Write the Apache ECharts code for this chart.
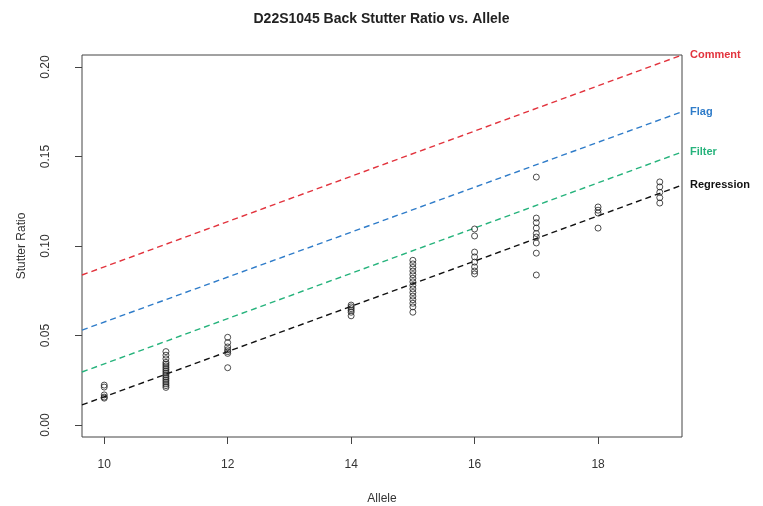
<!DOCTYPE html>
<html>
<head>
<meta charset="utf-8">
<script src="https://cdn.jsdelivr.net/npm/echarts@6/dist/echarts.min.js"></script>
<style>
  html, body { margin: 0; padding: 0; background: #fff; }
  #chart { width: 763px; height: 506px; }
</style>
</head>
<body>
<div id="chart"></div>
<script>
// observed stutter ratios per allele
const alleles = [10, 11, 12, 14, 15, 16, 17, 18, 19]
const ratios = [
  [0.0223, 0.0212, 0.0168, 0.0156, 0.015],
  [0.041, 0.039, 0.037, 0.035, 0.034, 0.033, 0.032, 0.031, 0.030, 0.029, 0.028, 0.027, 0.026, 0.025, 0.024, 0.023, 0.022, 0.021],
  [0.049, 0.046, 0.0436, 0.042, 0.041, 0.040, 0.032],
  [0.067, 0.066, 0.065, 0.064, 0.063, 0.061],
  [0.092, 0.090, 0.088, 0.086, 0.084, 0.082, 0.080, 0.078, 0.076, 0.074, 0.072, 0.070, 0.068, 0.066, 0.063],
  [0.1095, 0.1056, 0.0966, 0.0939, 0.091, 0.0883, 0.086, 0.0844],
  [0.1385, 0.1156, 0.113, 0.110, 0.107, 0.105, 0.1017, 0.096, 0.0838],
  [0.1218, 0.12, 0.1184, 0.110],
  [0.1358, 0.133, 0.130, 0.127, 0.124]
]

// threshold lines: value at left and right edge of the plot
const lineNames = ['Comment', 'Flag', 'Filter', 'Regression']
const lineColors = ['#e2333d', '#2f7cc9', '#26b37c', '#111111']
const lineLeft = [0.0838, 0.053, 0.0296, 0.0112]
const lineRight = [0.2067, 0.175, 0.1525, 0.134]

const xMin = 9.64
const xMax = 19.36
const yMin = -0.0067
const yMax = 0.2067
const xTicks = [10, 12, 14, 16, 18]
const yTicks = [0, 0.05, 0.1, 0.15, 0.2]

const font = 'Liberation Sans, Arial, sans-serif'

const points = []
alleles.forEach((a, i) => {
  ratios[i].forEach(r => points.push([a, r]))
})

const series = lineNames.map((name, i) => ({
  name: name,
  type: 'line',
  data: [[xMin, lineLeft[i]], [xMax, lineRight[i]]],
  symbol: 'none',
  lineStyle: { color: lineColors[i], width: 1.4, type: [6, 4] },
  endLabel: {
    show: true,
    formatter: name,
    color: lineColors[i],
    fontFamily: font,
    fontWeight: 'bold',
    fontSize: 11,
    distance: 8
  },
  z: 1
}))

series.push({
  type: 'scatter',
  data: points,
  symbol: 'circle',
  symbolSize: 6,
  itemStyle: { color: 'transparent', borderColor: '#222', borderWidth: 1 },
  z: 3
})

const chart = echarts.init(document.getElementById('chart'))
chart.setOption({
  animation: false,
  backgroundColor: '#fff',
  title: {
    text: 'D22S1045 Back Stutter Ratio vs. Allele',
    left: 'center',
    top: 7,
    textStyle: { fontFamily: font, fontSize: 14, fontWeight: 'bold', color: '#222' }
  },
  grid: {
    left: 82, right: 81, top: 55, bottom: 69,
    containLabel: false,
    outerBoundsMode: 'none',
    show: true, borderColor: '#444', borderWidth: 1
  },
  xAxis: {
    type: 'value',
    min: xMin,
    max: xMax,
    name: 'Allele',
    nameLocation: 'middle',
    nameGap: 56,
    nameTextStyle: { fontFamily: font, fontSize: 12, color: '#333' },
    axisLine: { show: false, onZero: false },
    axisTick: { show: true, length: 7, lineStyle: { color: '#444' }, customValues: xTicks },
    axisLabel: { fontFamily: font, fontSize: 12, color: '#333', margin: 22, customValues: xTicks },
    splitLine: { show: false }
  },
  yAxis: {
    type: 'value',
    min: yMin,
    max: yMax,
    name: 'Stutter Ratio',
    nameLocation: 'middle',
    nameGap: 54,
    nameTextStyle: { fontFamily: font, fontSize: 12, color: '#333' },
    axisLine: { show: false, onZero: false },
    axisTick: { show: true, length: 7, lineStyle: { color: '#444' }, customValues: yTicks },
    axisLabel: {
      fontFamily: font, fontSize: 12, color: '#333', rotate: 90, margin: 30,
      customValues: yTicks,
      formatter: v => v.toFixed(2)
    },
    splitLine: { show: false }
  },
  series: series
})
</script>
</body>
</html>
